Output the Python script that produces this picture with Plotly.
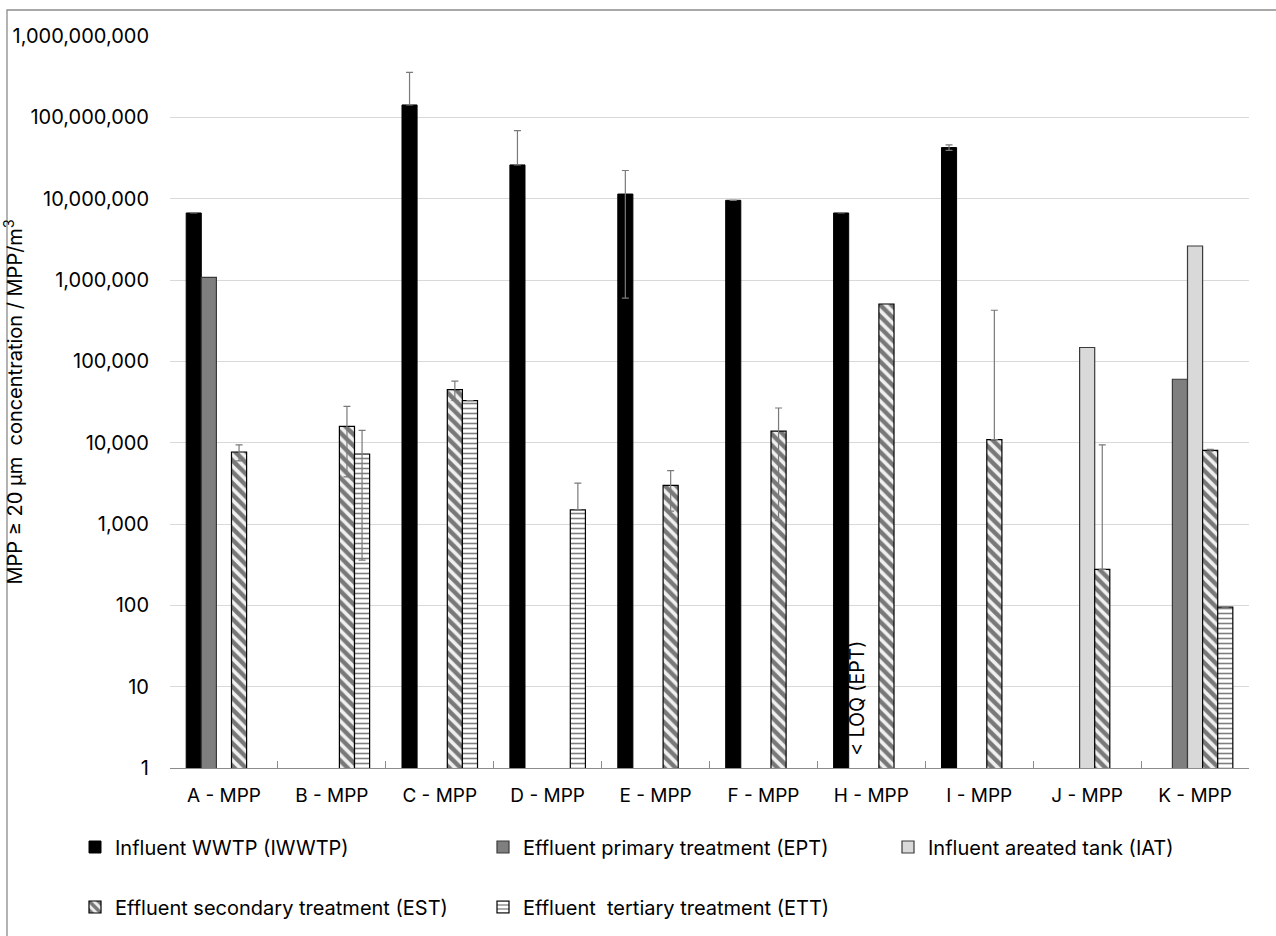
import plotly.graph_objects as go

nan = float("nan")

categories = ["A - MPP", "B - MPP", "C - MPP", "D - MPP", "E - MPP",
              "F - MPP", "H - MPP", "I - MPP", "J - MPP", "K - MPP"]

iwwtp = [6.67e6, None, 1.42e8, 2.6e7, 1.14e7, 9.55e6, 6.67e6, 4.25e7, None, None]
iwwtp_err_plus = [nan, nan, 2.16e8, 4.27e7, 1.08e7, nan, nan, 3.3e6, nan, nan]
iwwtp_err_minus = [nan, nan, 0, 0, 1.08e7, nan, nan, 3.3e6, nan, nan]

ept = [1.08e6, None, None, None, None, None, None, None, None, 6.02e4]

iat = [None, None, None, None, None, None, None, None, 1.48e5, 2.62e6]

est = [7.68e3, 1.59e4, 4.5e4, None, 2.99e3, 1.39e4, 5.07e5, 1.09e4, 277, 8.05e3]
est_err_plus = [1.7e3, 1.21e4, 1.2e4, nan, 1.55e3, 1.28e4, nan, 4.14e5, 9.1e3, 200]
est_err_minus = [1.7e3, 1.21e4, 1.2e4, nan, 1.55e3, 1.28e4, nan, 0, 0, 200]

ett = [None, 7.26e3, 3.29e4, 1.49e3, None, None, None, None, None, 95]
ett_err_plus = [nan, 6.9e3, nan, 1.7e3, nan, nan, nan, nan, nan, nan]
ett_err_minus = [nan, 6.9e3, nan, 0, nan, nan, nan, nan, nan, nan]

y_tick_vals = [1, 10, 100, 1000, 10000, 100000, 1000000, 10000000, 100000000, 1000000000]
y_tick_text = ["1", "10", "100", "1,000", "10,000", "100,000", "1,000,000",
               "10,000,000", "100,000,000", "1,000,000,000"]

series_names = ["Influent WWTP (IWWTP)", "Effluent primary treatment (EPT)",
                "Influent areated tank (IAT)", "Effluent secondary treatment (EST)",
                "Effluent  tertiary treatment (ETT)"]

FONT = "Inter"
W, H = 1276, 936
L, R, T, B = 170, 27, 36, 168
PW, PH = W - L - R, H - T - B


def pxx(px):
    return (px - L) / PW


def pxy(py):
    return (H - B - py) / PH


err_col = "#7a7a7a"


def err(plus, minus):
    return dict(type="data", array=plus, arrayminus=minus, symmetric=False,
                color=err_col, thickness=1.2, width=3.5)


fig = go.Figure()
fig.add_trace(go.Bar(x=categories, y=iwwtp, name=series_names[0],
                     marker=dict(color="#000000", line=dict(color="#000000", width=1)),
                     error_y=err(iwwtp_err_plus, iwwtp_err_minus), legend="legend"))
fig.add_trace(go.Bar(x=categories, y=ept, name=series_names[1],
                     marker=dict(color="#7f7f7f", line=dict(color="#3a3a3a", width=1.2)),
                     legend="legend2"))
fig.add_trace(go.Bar(x=categories, y=iat, name=series_names[2],
                     marker=dict(color="#d9d9d9", line=dict(color="#3a3a3a", width=1.2)),
                     legend="legend3"))
fig.add_trace(go.Bar(x=categories, y=est, name=series_names[3],
                     marker=dict(color="white", line=dict(color="#000000", width=1.2),
                                 pattern=dict(shape="\\", fgcolor="#000000", bgcolor="#f0f0f0",
                                              size=8, solidity=0.55)),
                     error_y=err(est_err_plus, est_err_minus), legend="legend4"))
fig.add_trace(go.Bar(x=categories, y=ett, name=series_names[4],
                     marker=dict(color="white", line=dict(color="#000000", width=1.2),
                                 pattern=dict(shape="-", fgcolor="#000000", bgcolor="#ffffff",
                                              size=5, solidity=0.32)),
                     error_y=err(ett_err_plus, ett_err_minus), legend="legend5"))

leg_font = dict(family=FONT, size=20, color="#000000")
row1, row2 = pxy(847), pxy(907)
col1, col2, col3 = 75, 483, 888


def leg(xpx, yp):
    return dict(x=pxx(xpx), y=yp, xanchor="left", yanchor="middle",
                font=leg_font, bgcolor="rgba(0,0,0,0)", borderwidth=0,
                orientation="h")


fig.update_layout(
    width=W, height=H,
    margin=dict(l=L, r=R, t=T, b=B, autoexpand=False),
    paper_bgcolor="white", plot_bgcolor="white",
    barmode="group", bargap=0.3, bargroupgap=0,
    font=dict(family=FONT, color="#000000"),
    legend=leg(col1, row1),
    legend2=leg(col2, row1),
    legend3=leg(col3, row1),
    legend4=leg(col1, row2),
    legend5=leg(col2, row2),
    showlegend=True,
)

fig.update_xaxes(
    type="category", categoryorder="array", categoryarray=categories,
    showline=True, linecolor="#8c8c8c", linewidth=1.2,
    ticks="inside", tickson="boundaries", ticklen=7, tickcolor="#8c8c8c", tickwidth=1.2,
    tickfont=dict(family=FONT, size=19, color="#000000"),
    ticklabelstandoff=10,
    showgrid=False, automargin=False,
)

fig.update_yaxes(
    type="log", range=[0, 9],
    tickvals=y_tick_vals, ticktext=y_tick_text,
    showgrid=True, gridcolor="#d9d9d9", gridwidth=1.2,
    showline=False, ticks="", zeroline=False,
    tickfont=dict(family=FONT, size=20, color="#000000"),
    ticklabelstandoff=20,
    title=dict(text="MPP ≥ 20 µm  concentration / MPP/m<sup>3</sup>",
               font=dict(family=FONT, size=20, color="#000000"), standoff=1),
    automargin=False,
)

fig.add_annotation(
    x="H - MPP", y=0, xref="x", yref="y", xshift=-15, yshift=10,
    text="< LOQ (EPT)", textangle=-90, showarrow=False,
    xanchor="center", yanchor="bottom",
    font=dict(family=FONT, size=19.5, color="#000000"),
)

fig.add_shape(type="rect", xref="paper", yref="paper",
              x0=pxx(7), y0=pxy(H + 20), x1=pxx(W + 20), y1=pxy(10),
              line=dict(color="#8c8c8c", width=1.3), fillcolor="rgba(0,0,0,0)",
              layer="below")

fig.write_html("out.html", config={"displayModeBar": False},
               post_script="document.body.style.margin='0';document.body.style.overflow='hidden';")
